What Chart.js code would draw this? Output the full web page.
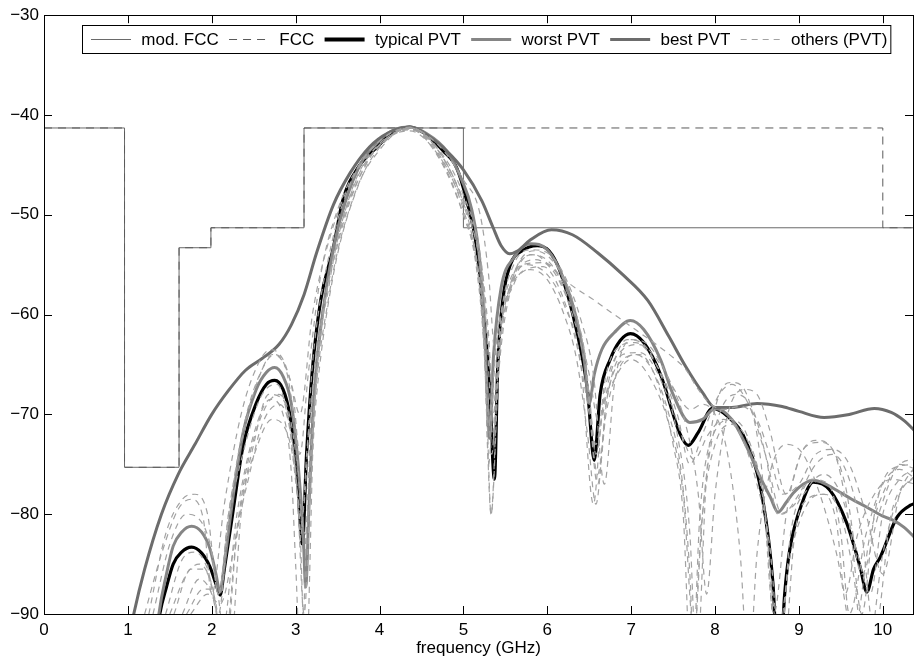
<!DOCTYPE html>
<html>
<head>
<meta charset="utf-8">
<script src="https://cdn.jsdelivr.net/npm/chart.js@4.4.1/dist/chart.umd.min.js"></script>
<style>
  html, body { margin: 0; padding: 0; background: #fff; }
  #wrap { width: 915px; height: 662px; }
</style>
</head>
<body>
<div id="wrap"><canvas id="psd" width="915" height="662"></canvas></div>
<script>
// spectral masks (GHz / dBm/MHz), drawn as steps
const maskF = [0, 0.96, 1.61, 1.99, 3.1, 5.0, 10.6];
const modFccDb = [-41.3, -75.3, -53.3, -51.3, -41.3, -51.3, -51.3];
const fccF = [0, 0.96, 1.61, 1.99, 3.1, 10.0, 10.6];
const fccDb = [-41.3, -75.3, -53.3, -51.3, -41.3, -51.3, -51.3];

// typical corner
const typF = [1.3, 1.38, 1.46, 1.54, 1.64, 1.76, 1.88, 1.98, 2.05, 2.1, 2.15, 2.25, 2.37, 2.53, 2.65, 2.75, 2.85, 2.93, 3.01, 3.08, 3.13, 3.2, 3.3, 3.45, 3.56, 3.75, 3.96, 4.15, 4.36, 4.55, 4.76, 4.92, 5.04, 5.16, 5.24, 5.31, 5.37, 5.41, 5.47, 5.56, 5.7, 5.88, 6.02, 6.15, 6.35, 6.48, 6.56, 6.63, 6.75, 6.87, 6.99, 7.15, 7.35, 7.58, 7.68, 7.8, 7.97, 8.15, 8.38, 8.57, 8.69, 8.76, 8.83, 8.89, 9.05, 9.17, 9.37, 9.57, 9.73, 9.81, 9.89, 9.97, 10.17, 10.33, 10.4];
const typDb = [-95, -90, -87.3, -85, -83.8, -83.3, -83.9, -85.3, -87, -88.1, -85.5, -79.9, -73.3, -68.9, -67, -66.6, -67.5, -70, -74.9, -83, -74, -65.5, -58.5, -53.3, -48.6, -45.2, -43.3, -41.8, -41.2, -41.9, -43.6, -45.3, -48.6, -53.3, -60, -67, -76.5, -65, -58.5, -55, -53.6, -53.1, -53.6, -55.6, -61.6, -67.6, -74.6, -68, -64.5, -62.6, -61.9, -62.8, -66, -71.9, -73.1, -71.8, -69.4, -70.2, -72.9, -78.6, -86.9, -97, -88, -83.6, -78.6, -76.8, -77.6, -80.9, -85.3, -87.8, -85.5, -84.3, -80.3, -79.1, -78.9];

// worst corner
const worstF = [1.3, 1.37, 1.46, 1.54, 1.64, 1.76, 1.88, 1.98, 2.05, 2.1, 2.15, 2.25, 2.37, 2.53, 2.65, 2.75, 2.85, 2.95, 3.03, 3.09, 3.12, 3.16, 3.22, 3.32, 3.45, 3.6, 3.8, 4.0, 4.2, 4.36, 4.55, 4.8, 4.98, 5.1, 5.2, 5.26, 5.31, 5.36, 5.45, 5.6, 5.8, 6.0, 6.2, 6.35, 6.44, 6.5, 6.56, 6.65, 6.8, 6.99, 7.15, 7.35, 7.5, 7.7, 7.85, 8.0, 8.2, 8.38, 8.55, 8.66, 8.75, 8.85, 8.93, 9.05, 9.17, 9.3, 9.45, 9.63, 9.81, 10.0, 10.12, 10.25, 10.4];
const worstDb = [-96, -90, -86, -83.2, -81.8, -81.2, -81.8, -83.5, -86, -87.8, -85, -78.5, -72, -67.5, -65.8, -65.3, -66.2, -69, -75, -82, -87.3, -79, -68, -60, -53.3, -48.5, -44.5, -42.5, -41.4, -41.2, -41.8, -43.6, -46.5, -49.5, -55, -63, -72.4, -64, -57.3, -54.3, -52.9, -53.5, -56.5, -60.5, -64.5, -68.9, -66, -63.5, -61.8, -60.6, -61.5, -64.5, -68, -70.8, -70.5, -69.4, -70.5, -73.3, -76.5, -78.3, -79.8, -78.8, -77.9, -77, -76.6, -76.9, -77.6, -78.5, -79.3, -80.2, -80.6, -81.3, -82.5];

// best corner (upper envelope)
const bestF = [1.0, 1.07, 1.2, 1.4, 1.6, 1.8, 2.0, 2.2, 2.4, 2.6, 2.8, 2.95, 3.1, 3.25, 3.45, 3.65, 3.88, 4.1, 4.36, 4.6, 4.8, 5.0, 5.22, 5.35, 5.45, 5.55, 5.65, 5.8, 6.05, 6.3, 6.6, 6.9, 7.2, 7.45, 7.65, 7.85, 8.0, 8.2, 8.5, 8.8, 9.0, 9.3, 9.6, 9.9, 10.1, 10.25, 10.4];
const bestDb = [-93, -90, -85.5, -80, -76, -73, -70, -67.6, -65.6, -64.4, -63, -61, -58, -53.8, -49, -45.8, -43.2, -41.8, -41.2, -42.2, -43.6, -45.5, -48.6, -51.2, -53.1, -53.9, -53.6, -52.5, -51.5, -52, -53.8, -56, -58.6, -62.2, -65.2, -67.8, -69.3, -69.3, -68.9, -69.2, -69.7, -70.3, -70, -69.4, -69.8, -70.6, -71.8];

// other PVT corners
const othersF = [
  [1.25, 1.45, 1.65, 1.8, 1.95, 2.08, 2.2, 2.4, 2.6, 2.72, 2.85, 2.97, 3.05, 3.15, 3.3, 3.5, 3.8, 4.1, 4.36, 4.7, 5.0, 5.2, 5.3, 5.36, 5.45, 5.6, 5.85, 6.1, 6.3, 6.45, 6.58, 6.7, 6.9, 7.05, 7.3, 7.55, 7.7, 7.85, 8.05, 8.2, 8.4, 8.6, 8.8, 9.0, 9.2, 9.4, 9.6, 9.75, 9.9, 10.1, 10.4],
  [1.5, 1.7, 1.85, 2.0, 2.12, 2.3, 2.5, 2.7, 2.85, 2.95, 3.0, 3.06, 3.15, 3.3, 3.5, 3.8, 4.1, 4.36, 4.7, 5.0, 5.15, 5.25, 5.33, 5.42, 5.55, 5.75, 6.0, 6.2, 6.4, 6.55, 6.65, 6.8, 7.0, 7.2, 7.45, 7.62, 7.75, 7.85, 8.0, 8.2, 8.45, 8.6, 8.75, 8.9, 9.1, 9.3, 9.5, 9.65, 9.8, 10.0, 10.2, 10.4],
  [1.65, 1.85, 2.0, 2.15, 2.3, 2.45, 2.6, 2.8, 2.92, 3.02, 3.12, 3.25, 3.45, 3.75, 4.05, 4.36, 4.65, 4.95, 5.1, 5.22, 5.3, 5.4, 5.55, 5.75, 5.95, 6.15, 6.35, 6.5, 6.6, 6.72, 6.9, 7.1, 7.35, 7.55, 7.7, 7.78, 7.9, 8.05, 8.2, 8.4, 8.55, 8.7, 8.85, 9.0, 9.2, 9.4, 9.55, 9.75, 9.95, 10.2, 10.4],
  [1.2, 1.4, 1.6, 1.75, 1.9, 2.0, 2.15, 2.35, 2.55, 2.7, 2.85, 2.95, 3.05, 3.2, 3.4, 3.7, 4.0, 4.36, 4.7, 5.0, 5.2, 5.3, 5.38, 5.48, 5.65, 5.85, 6.05, 6.25, 6.42, 6.55, 6.68, 6.85, 7.05, 7.3, 7.5, 7.65, 7.8, 7.95, 8.1, 8.3, 8.5, 8.65, 8.8, 9.0, 9.2, 9.4, 9.6, 9.8, 10.0, 10.2, 10.4],
  [1.55, 1.75, 1.9, 2.05, 2.15, 2.3, 2.5, 2.68, 2.85, 2.95, 3.02, 3.1, 3.2, 3.4, 3.7, 4.0, 4.36, 4.7, 5.0, 5.2, 5.28, 5.34, 5.4, 5.55, 5.8, 6.05, 6.25, 6.45, 6.6, 6.7, 6.85, 7.05, 7.25, 7.45, 7.6, 7.7, 7.75, 7.8, 7.9, 8.05, 8.25, 8.45, 8.6, 8.75, 8.95, 9.15, 9.35, 9.5, 9.6, 9.8, 10.0, 10.2, 10.4],
  [1.45, 1.65, 1.8, 1.95, 2.08, 2.2, 2.4, 2.6, 2.78, 2.9, 3.0, 3.06, 3.14, 3.3, 3.55, 3.85, 4.1, 4.36, 4.75, 5.05, 5.2, 5.28, 5.35, 5.45, 5.6, 5.85, 6.1, 6.3, 6.5, 6.62, 6.75, 6.95, 7.15, 7.4, 7.6, 7.75, 7.92, 8.1, 8.3, 8.5, 8.65, 8.8, 8.95, 9.1, 9.3, 9.45, 9.55, 9.7, 9.9, 10.1, 10.4],
  [1.3, 1.5, 1.7, 1.85, 1.98, 2.08, 2.2, 2.4, 2.6, 2.75, 2.9, 3.0, 3.08, 3.2, 3.4, 3.7, 4.0, 4.36, 4.7, 5.0, 5.2, 5.3, 5.36, 5.45, 5.6, 5.8, 6.0, 6.2, 6.4, 6.55, 6.68, 6.8, 7.0, 7.2, 7.45, 7.65, 7.8, 7.9, 8.0, 8.15, 8.35, 8.5, 8.65, 8.85, 9.05, 9.25, 9.45, 9.62, 9.75, 9.9, 10.1, 10.4],
  [1.7, 1.9, 2.05, 2.2, 2.35, 2.55, 2.72, 2.88, 2.98, 3.05, 3.12, 3.22, 3.4, 3.65, 3.95, 4.36, 4.7, 4.95, 5.1, 5.2, 5.27, 5.33, 5.42, 5.6, 5.8, 6.0, 6.2, 6.35, 6.48, 6.58, 6.7, 6.9, 7.1, 7.3, 7.5, 7.62, 7.72, 7.82, 7.98, 8.2, 8.4, 8.6, 8.75, 8.9, 9.1, 9.3, 9.5, 9.7, 9.85, 10.0, 10.2, 10.4],
  [1.75, 1.95, 2.1, 2.25, 2.4, 2.6, 2.8, 2.95, 3.05, 3.1, 3.2, 3.4, 3.7, 4.0, 4.36, 4.7, 5.0, 5.15, 5.25, 5.3, 5.38, 5.5, 5.7, 5.95, 6.2, 6.38, 6.5, 6.58, 6.7, 6.9, 7.1, 7.35, 7.55, 7.7, 7.85, 8.0, 8.15, 8.3, 8.4, 8.5, 8.65, 8.85, 9.05, 9.25, 9.45, 9.65, 9.85, 10.05, 10.2, 10.4]
];
const othersDb = [
  [-90, -82, -78.5, -78, -80, -88, -80, -71, -65.5, -64, -64.8, -68, -74, -66, -56, -49.5, -44.5, -42, -41.3, -43.4, -48, -54, -62, -70, -62, -56.5, -54.5, -56, -60, -65, -73, -66, -63, -62.8, -65, -70, -75, -72, -68, -67, -69, -74, -80, -78, -75, -74, -76.5, -82, -92, -80, -76],
  [-90, -86, -85, -87, -92, -80, -72, -68.5, -70, -76, -85, -95, -78, -62, -53, -45.5, -42.2, -41.4, -44, -50, -55, -64, -80, -66, -58, -55, -56, -59, -65, -79, -70, -66.5, -64.5, -66, -71, -78, -92, -80, -73, -71, -74, -80, -92, -84, -79, -78, -80, -86, -95, -84, -78, -76],
  [-90, -86.5, -88, -93, -82, -76, -71, -69, -71, -78, -82, -68, -56, -47, -42.8, -41.5, -43, -47.5, -51, -57, -71, -62, -57.5, -55.5, -55.2, -57.5, -63, -70, -76, -68, -64, -63.8, -66.5, -72, -82, -95, -76, -68, -66.8, -68.5, -75, -90, -80, -74.5, -72.6, -73.5, -77, -86, -80, -75, -74.5],
  [-90, -84, -79.5, -78.5, -80.5, -88, -79, -70, -65, -63.5, -64.5, -67, -70, -60, -52.5, -46, -43, -41.3, -43, -46.5, -50, -56, -64, -59.5, -55, -54, -55.3, -56.8, -57.8, -58.5, -59.3, -60.3, -61.5, -63, -64.3, -65.5, -67.5, -69, -69.5, -69.2, -70.5, -74, -78, -77, -74, -73.5, -75, -80, -86, -78, -75],
  [-90, -85.5, -85.5, -89, -95, -82, -73, -68, -68.5, -72, -78, -90, -72, -58, -48, -43.5, -41.2, -43.8, -49.5, -57, -66, -74, -64, -57.5, -54, -55, -58.5, -64, -77, -70, -65.5, -64, -65.5, -70, -76, -86, -95, -86, -76, -70, -68, -69.5, -74, -80, -79, -76.5, -77, -82, -90, -82, -77, -75.5, -76.5],
  [-90, -84.5, -83.8, -85.5, -90, -81, -73, -68, -67, -70, -75.5, -82, -73, -61, -51, -44.8, -42.3, -41.3, -44.2, -49.8, -54, -62, -72, -62, -56, -53.6, -55, -58.5, -66, -71, -66, -62.5, -63, -67, -72, -74.5, -72, -70.5, -72, -77, -83, -96, -82, -78.5, -78, -81, -88, -82, -78, -76.5, -77],
  [-90, -83, -80, -80.5, -83, -88, -80, -70.5, -65.5, -64, -66, -72, -80, -65, -54, -46, -42.6, -41.3, -43.5, -48.8, -55, -63, -69, -60, -55, -53.5, -53.8, -56, -60.5, -66, -77, -67, -62.5, -63, -66.5, -71, -78, -88, -78, -70, -67.5, -68, -71.5, -78, -73.5, -72.8, -74.5, -82, -90, -80, -75.5, -75],
  [-90, -87.5, -87.5, -96, -80, -73, -70.5, -71.5, -75, -81, -96, -70, -57, -48, -43.3, -41.6, -44, -48, -52, -58, -67, -80, -64, -57, -55.5, -56.5, -60, -64.5, -72, -79, -69, -64.5, -64, -66.5, -73, -80, -97, -80, -72, -70.5, -72.5, -80, -96, -82, -77.5, -76, -78, -84, -88, -80, -76.5, -75.5],
  [-90, -88, -89, -84, -76, -70, -68, -71, -78, -84, -68, -56, -47, -43, -41.4, -44.2, -50, -54.5, -62, -75, -64, -58, -55, -54.8, -57, -62, -68, -74, -67, -63.5, -63, -65, -68, -69.5, -69, -70, -74, -84, -96, -84, -76, -73, -74, -78, -84, -92, -82, -77, -75, -75.5]
];

const xTicks = [0, 1, 2, 3, 4, 5, 6, 7, 8, 9, 10];
const yTicks = [-90, -80, -70, -60, -50, -40, -30];

const pts = (f, d) => f.map((x, i) => ({ x: x, y: d[i] }));
const FONT = '"Liberation Sans", Arial, sans-serif';

Chart.defaults.font.family = FONT;
Chart.defaults.font.size = 17;
Chart.defaults.color = '#000';

const curve = {
  pointRadius: 0,
  fill: false,
  cubicInterpolationMode: 'monotone',
  clip: 0
};

const datasets = [
  { label: 'mod. FCC', data: pts(maskF, modFccDb), stepped: 'before', borderColor: '#6a6a6a', borderWidth: 1, pointRadius: 0, clip: 0, order: 11 },
  { label: 'FCC', data: pts(fccF, fccDb), stepped: 'before', borderColor: '#5a5a5a', borderWidth: 1, borderDash: [8, 6], pointRadius: 0, clip: 0, order: 10 },
  Object.assign({ label: 'typical PVT', data: pts(typF, typDb), borderColor: '#000', borderWidth: 3.2, order: 9 }, curve),
  Object.assign({ label: 'worst PVT', data: pts(worstF, worstDb), borderColor: '#858585', borderWidth: 3, order: 8 }, curve),
  Object.assign({ label: 'best PVT', data: pts(bestF, bestDb), borderColor: '#6c6c6c', borderWidth: 3, order: 7 }, curve)
];
othersF.forEach((f, i) => {
  datasets.push(Object.assign({
    label: i === 0 ? 'others (PVT)' : '',
    inLegend: i === 0,
    data: pts(f, othersDb[i]),
    borderColor: '#a2a2a2',
    borderWidth: 1.2,
    borderDash: [6, 5],
    order: i
  }, curve));
});

// box with inward ticks on all four sides, plus the in-plot legend
const framePlugin = {
  id: 'frame',
  afterDatasetsDraw(chart) {
    const { ctx, chartArea: a, scales } = chart;
    const x = scales.x, y = scales.y;
    ctx.save();
    ctx.strokeStyle = '#000';
    ctx.lineWidth = 1;
    ctx.setLineDash([]);
    ctx.beginPath();
    xTicks.forEach(v => {
      const px = Math.round(x.getPixelForValue(v)) + 0.5;
      ctx.moveTo(px, a.bottom); ctx.lineTo(px, a.bottom - 8);
      ctx.moveTo(px, a.top); ctx.lineTo(px, a.top + 8);
    });
    yTicks.forEach(v => {
      const py = Math.round(y.getPixelForValue(v)) + 0.5;
      ctx.moveTo(a.left, py); ctx.lineTo(a.left + 8, py);
      ctx.moveTo(a.right, py); ctx.lineTo(a.right - 8, py);
    });
    ctx.stroke();
    ctx.strokeRect(Math.round(a.left) + 0.5, Math.round(a.top) + 0.5, Math.round(a.right - a.left), Math.round(a.bottom - a.top));
    ctx.restore();
  },
  afterDraw(chart) {
    const ctx = chart.ctx;
    const items = chart.data.datasets.filter(d => d.label && (d.inLegend === undefined || d.inLegend));
    const x0 = 82, y0 = 25, h = 28, cy = y0 + h / 2;
    const gap = 10.3;
    ctx.save();
    ctx.font = '17px ' + FONT;
    let w = 9;
    items.forEach(d => { w += 40 + gap + ctx.measureText(d.label).width + gap; });
    w -= gap - 3;
    ctx.fillStyle = '#fff';
    ctx.fillRect(x0, y0, w, h);
    ctx.strokeStyle = '#000';
    ctx.lineWidth = 1;
    ctx.strokeRect(x0 + 0.5, y0 + 0.5, w, h);
    let cx = x0 + 9;
    items.forEach(d => {
      ctx.beginPath();
      ctx.setLineDash(d.borderDash || []);
      ctx.strokeStyle = d.borderColor;
      ctx.lineWidth = d.borderWidth + (d.label === 'typical PVT' ? 0.8 : 0);
      ctx.moveTo(cx, cy + 0.5);
      ctx.lineTo(cx + 40, cy + 0.5);
      ctx.stroke();
      cx += 40 + gap;
      ctx.fillStyle = '#000';
      ctx.textBaseline = 'middle';
      ctx.fillText(d.label, cx, cy + 1);
      cx += ctx.measureText(d.label).width + gap;
    });
    ctx.restore();
  }
};

new Chart(document.getElementById('psd'), {
  type: 'line',
  data: { datasets: datasets },
  options: {
    responsive: false,
    animation: false,
    layout: { padding: { top: 14, right: 2, left: 0, bottom: 0 } },
    plugins: { legend: { display: false }, tooltip: { enabled: false } },
    scales: {
      x: {
        type: 'linear',
        min: 0,
        max: 10.36,
        grid: { display: false, drawTicks: false },
        border: { display: false },
        afterBuildTicks: s => { s.ticks = xTicks.map(v => ({ value: v })); },
        afterFit: s => { s.height = 48; },
        ticks: { padding: 6, maxRotation: 0, autoSkip: false, font: { size: 17 } },
        title: { display: true, text: 'frequency (GHz)', font: { size: 17 }, padding: { top: 0, bottom: 3 } }
      },
      y: {
        type: 'linear',
        min: -90,
        max: -30,
        grid: { display: false, drawTicks: false },
        border: { display: false },
        afterBuildTicks: s => { s.ticks = yTicks.map(v => ({ value: v })); },
        afterFit: s => { s.width = 44; },
        ticks: { padding: 5, font: { size: 17 }, callback: v => String(v).replace('-', '\u2212') }
      }
    }
  },
  plugins: [framePlugin]
});
</script>
</body>
</html>
